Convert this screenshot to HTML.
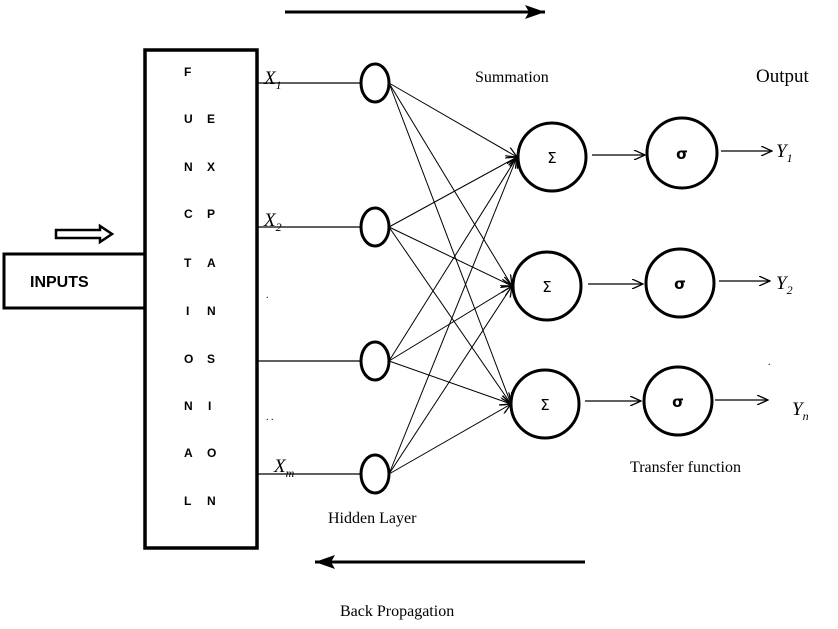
<!DOCTYPE html>
<html><head><style>
body{margin:0;background:#fff;}
svg{display:block;}
.l{font-family:"Liberation Sans",sans-serif;font-weight:bold;font-size:12px;}
.s{font-family:"Liberation Serif",serif;font-size:16px;}
.i{font-family:"Liberation Serif",serif;font-style:italic;font-size:19px;}
</style></head><body>
<svg width="838" height="629" viewBox="0 0 838 629" xmlns="http://www.w3.org/2000/svg">
<defs>
<marker id="a" markerWidth="12" markerHeight="10" refX="11" refY="5" orient="auto" markerUnits="userSpaceOnUse">
<path d="M0,0 L11,5 L0,10" fill="none" stroke="#000" stroke-width="1.3"/></marker>
<marker id="b" markerWidth="22" markerHeight="14" refX="20" refY="7" orient="auto" markerUnits="userSpaceOnUse">
<path d="M0,0 L20,7 L0,14 L4,7 Z" fill="#000"/></marker>
</defs>
<!-- top / bottom arrows -->
<line x1="285" y1="12" x2="545" y2="12" stroke="#000" stroke-width="3" marker-end="url(#b)"/>
<line x1="585" y1="562" x2="315" y2="562" stroke="#000" stroke-width="3" marker-end="url(#b)"/>
<!-- inputs box -->
<rect x="4" y="254" width="142" height="54" fill="#fff" stroke="#000" stroke-width="3"/>
<text x="30" y="287" class="l" style="font-size:16px">INPUTS</text>
<path d="M56,230 H100 V226 L112,234 L100,242 V238 H56 Z" fill="#fff" stroke="#000" stroke-width="2.5"/>
<!-- main box -->
<rect x="145" y="50" width="112" height="498" fill="#fff" stroke="#000" stroke-width="3.5"/>
<g class="l">
<text x="184" y="76">F</text>
<text x="184" y="123">U</text><text x="207" y="123">E</text>
<text x="184" y="171">N</text><text x="207" y="171">X</text>
<text x="184" y="218">C</text><text x="207" y="218">P</text>
<text x="184" y="267">T</text><text x="207" y="267">A</text>
<text x="186" y="315">I</text><text x="207" y="315">N</text>
<text x="184" y="363">O</text><text x="207" y="363">S</text>
<text x="184" y="410">N</text><text x="208" y="410">I</text>
<text x="184" y="457">A</text><text x="207" y="457">O</text>
<text x="184" y="505">L</text><text x="207" y="505">N</text>
</g>
<!-- input lines -->
<g stroke="#000" stroke-width="1.3">
<line x1="257" y1="83" x2="361" y2="83"/>
<line x1="257" y1="227" x2="361" y2="227"/>
<line x1="257" y1="361" x2="361" y2="361"/>
<line x1="257" y1="474" x2="361" y2="474"/>
</g>
<text x="264" y="84" class="i">X<tspan font-size="12" dy="5">1</tspan></text>
<text x="264" y="226" class="i">X<tspan font-size="12" dy="5">2</tspan></text>
<text x="274" y="472" class="i">X<tspan font-size="12" dy="5">m</tspan></text>
<text x="266" y="298" font-size="10">.</text>
<text x="266" y="420" font-size="10">. .</text>
<!-- hidden to sum -->
<g stroke="#000" stroke-width="1" marker-end="url(#a)">
<line x1="389" y1="83" x2="517" y2="157"/><line x1="389" y1="83" x2="512" y2="286"/><line x1="389" y1="83" x2="511" y2="404"/>
<line x1="389" y1="227" x2="517" y2="157"/><line x1="389" y1="227" x2="512" y2="286"/><line x1="389" y1="227" x2="511" y2="404"/>
<line x1="389" y1="361" x2="517" y2="157"/><line x1="389" y1="361" x2="512" y2="286"/><line x1="389" y1="361" x2="511" y2="404"/>
<line x1="389" y1="474" x2="517" y2="157"/><line x1="389" y1="474" x2="512" y2="286"/><line x1="389" y1="474" x2="511" y2="404"/>
</g>
<g fill="#fff" stroke="#000" stroke-width="3">
<ellipse cx="375" cy="83" rx="14" ry="19"/>
<ellipse cx="375" cy="227" rx="14" ry="19"/>
<ellipse cx="375" cy="361" rx="14" ry="19"/>
<ellipse cx="375" cy="474" rx="14" ry="19"/>
<circle cx="552" cy="157" r="34"/>
<circle cx="547" cy="286" r="34"/>
<circle cx="545" cy="404" r="34"/>
<circle cx="682" cy="153" r="35"/>
<circle cx="680" cy="283" r="34"/>
<circle cx="678" cy="401" r="34"/>
</g>
<g stroke="#000" stroke-width="1.3" marker-end="url(#a)">
<line x1="592" y1="155" x2="645" y2="155"/>
<line x1="588" y1="284" x2="643" y2="284"/>
<line x1="585" y1="401" x2="641" y2="401"/>
<line x1="721" y1="151" x2="772" y2="151"/>
<line x1="719" y1="281" x2="770" y2="281"/>
<line x1="715" y1="400" x2="768" y2="400"/>
</g>
<g font-family="DejaVu Sans,sans-serif" font-size="15" text-anchor="middle">
<text x="552" y="163">Σ</text><text x="547" y="292">Σ</text><text x="545" y="410">Σ</text>
<text x="682" y="159" font-weight="bold">σ</text><text x="680" y="289" font-weight="bold">σ</text><text x="678" y="407" font-weight="bold">σ</text>
</g>
<text x="776" y="157" class="i">Y<tspan font-size="12" dy="5">1</tspan></text>
<text x="776" y="289" class="i">Y<tspan font-size="12" dy="5">2</tspan></text>
<text x="792" y="415" class="i">Y<tspan font-size="12" dy="5">n</tspan></text>
<text x="768" y="365" font-size="10">.</text>
<text x="475" y="82" class="s">Summation</text>
<text x="756" y="82" class="s" style="font-size:19px">Output</text>
<text x="630" y="472" class="s">Transfer function</text>
<text x="328" y="523" class="s">Hidden Layer</text>
<text x="340" y="616" class="s">Back Propagation</text>
</svg>
</body></html>
